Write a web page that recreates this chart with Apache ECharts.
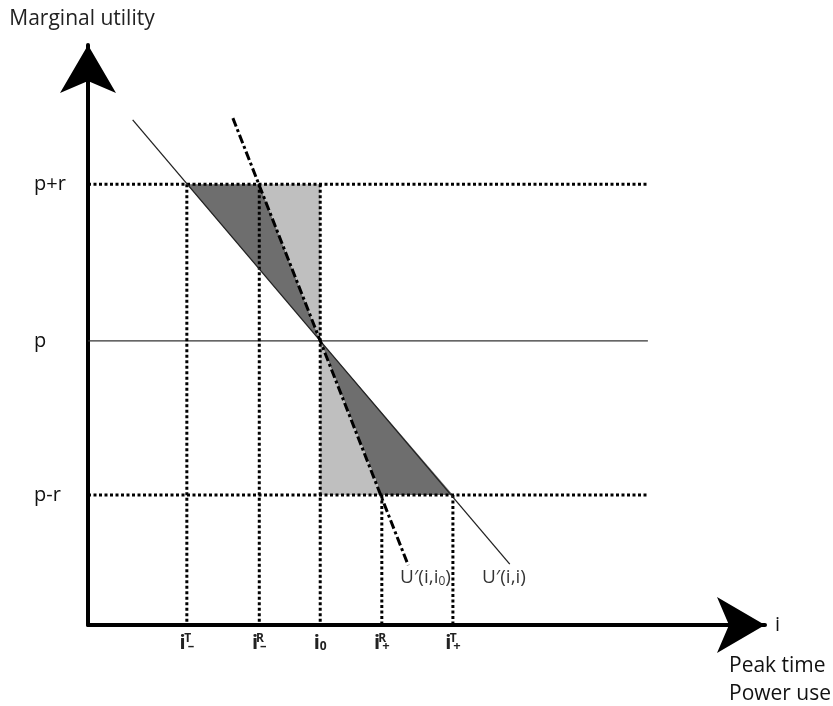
<!DOCTYPE html>
<html>
<head>
<meta charset="utf-8">
<script src="https://cdn.jsdelivr.net/npm/echarts@6/dist/echarts.min.js"></script>
<style>
html, body { margin: 0; padding: 0; background: #fff; }
#chart { width: 833px; height: 706px; }
</style>
</head>
<body>
<div id="chart"></div>
<script>
// price levels (y scale runs 0..100 over the plot)
var yLevels = [22.4, 49, 76];
var yLabels = ['p-r', 'p', 'p+r'];

// power use levels (x scale runs 0..100 over the plot)
var xLevels = [14.6, 25.3, 34.3, 43.4, 53.9];
var xLabels = [
    '{i|i}{up|T}{dn|\u2013}',
    '{i|i}{up|R}{dn|\u2013}',
    '{i|i}{sb|0}',
    '{i|i}{up|R}{dn|+}',
    '{i|i}{up|T}{dn|+}'
];
// top of each vertical dotted guide
var guideTops = [76, 76, 76, 22.4, 22.4];
var guideEnd = 82.7;

// the two marginal utility curves
var ownCurve = [[6.6, 87.1], [62.3, 10.5]];      // U'(i,i)
var fixedCurve = [[21.4, 87.4], [47.3, 10.3]];   // U'(i,i0)

// shaded areas
var darkAreas = [
    [[14.6, 76], [25.3, 76], [34.3, 49]],
    [[34.3, 49], [43.4, 22.4], [53.9, 22.4]]
];
var lightAreas = [
    [[25.3, 76], [34.3, 76], [34.3, 49]],
    [[34.3, 49], [34.3, 22.4], [43.4, 22.4]]
];

var curveNames = [
    [46.1, 8.1, '{u|U\u2032(i,i}{s|0}{u|)}'],
    [58.2, 8.1, '{u|U\u2032(i,i)}']
];

var FONT = 'Open Sans';
var chart = echarts.init(document.getElementById('chart'));

var dotStyle = { color: '#000', width: 3, type: [3, 2.5] };

var series = [];

function polySeries(list, color) {
    return {
        type: 'custom',
        data: list.map(function (p, k) { return [k]; }),
        z: 1,
        silent: true,
        renderItem: function (params, api) {
            var pts = list[params.dataIndex].map(function (d) { return api.coord(d); });
            return { type: 'polygon', shape: { points: pts }, style: { fill: color } };
        }
    };
}
series.push(polySeries(darkAreas, '#6e6e6e'));
series.push(polySeries(lightAreas, '#bfbfbf'));

// horizontal guides
yLevels.forEach(function (y, k) {
    series.push({
        type: 'line', data: [[0, y], [guideEnd, y]], showSymbol: false, silent: true, z: 3,
        lineStyle: k === 1 ? { color: '#333', width: 1.3 } : dotStyle
    });
});

// vertical guides
xLevels.forEach(function (x, k) {
    series.push({
        type: 'line', data: [[x, guideTops[k]], [x, 0]], showSymbol: false, silent: true, z: 3,
        lineStyle: dotStyle
    });
});

series.push({
    type: 'line', data: ownCurve, showSymbol: false, silent: true, z: 4,
    lineStyle: { color: '#222', width: 1.3 }
});
series.push({
    type: 'line', data: fixedCurve, showSymbol: false, silent: true, z: 4,
    lineStyle: { color: '#000', width: 3, type: [9, 3, 3, 3] }
});

series.push({
    type: 'scatter', symbolSize: 0, silent: true, z: 5,
    data: curveNames.map(function (c) { return [c[0], c[1], c[2]]; }),
    label: {
        show: true, position: 'inside', align: 'left',
        formatter: function (p) { return p.data[2]; },
        rich: {
            u: { fontFamily: FONT, fontSize: 19, color: '#000' },
            s: { fontFamily: FONT, fontSize: 12, color: '#000', verticalAlign: 'bottom', padding: [8, 0, 0, 0] }
        }
    }
});

var option = {
    animation: false,
    backgroundColor: '#fff',
    title: {
        text: 'Peak time\nPower use',
        left: 724, top: 647,
        textStyle: { fontFamily: FONT, fontSize: 21, fontWeight: 'normal', color: '#111', lineHeight: 28 }
    },
    grid: { left: 88, right: 68, top: 45, bottom: 81, outerBoundsMode: 'none' },
    xAxis: {
        type: 'value', min: 0, max: 100,
        name: 'i', nameLocation: 'end', nameGap: 10,
        nameTextStyle: { fontFamily: FONT, fontSize: 20, color: '#111', padding: [0, 0, 8, 0] },
        axisLine: { lineStyle: { color: '#000', width: 4 }, symbol: ['none', 'arrow'], symbolSize: [42, 48] },
        axisTick: { show: false },
        splitLine: { show: false },
        axisLabel: {
            customValues: xLevels, margin: 8,
            formatter: function (v) { return xLabels[xLevels.indexOf(v)]; },
            rich: {
                i: { fontFamily: FONT, fontSize: 20, color: '#222', lineHeight: 20, fontWeight: 'bold' },
                up: { fontFamily: FONT, fontSize: 12, color: '#222', width: 0, verticalAlign: 'top', fontWeight: 'bold', padding: [0, 0, 0, 2] },
                dn: { fontFamily: FONT, fontSize: 13, color: '#222', verticalAlign: 'bottom', fontWeight: 'bold' },
                sb: { fontFamily: FONT, fontSize: 12, color: '#222', verticalAlign: 'bottom', fontWeight: 'bold' }
            }
        }
    },
    yAxis: {
        type: 'value', min: 0, max: 100,
        name: 'Marginal utility', nameLocation: 'end', nameGap: 15,
        nameTextStyle: { fontFamily: FONT, fontSize: 21, color: '#222', align: 'center', padding: [0, 12, 0, 0] },
        axisLine: { lineStyle: { color: '#000', width: 4 }, symbol: ['none', 'arrow'], symbolSize: [42, 48] },
        axisTick: { show: false },
        splitLine: { show: false },
        axisLabel: {
            customValues: yLevels, margin: 54, align: 'left',
            fontFamily: FONT, fontSize: 20, color: '#111',
            formatter: function (v) { return yLabels[yLevels.indexOf(v)]; }
        }
    },
    series: series
};
chart.setOption(option);
</script>
</body>
</html>
